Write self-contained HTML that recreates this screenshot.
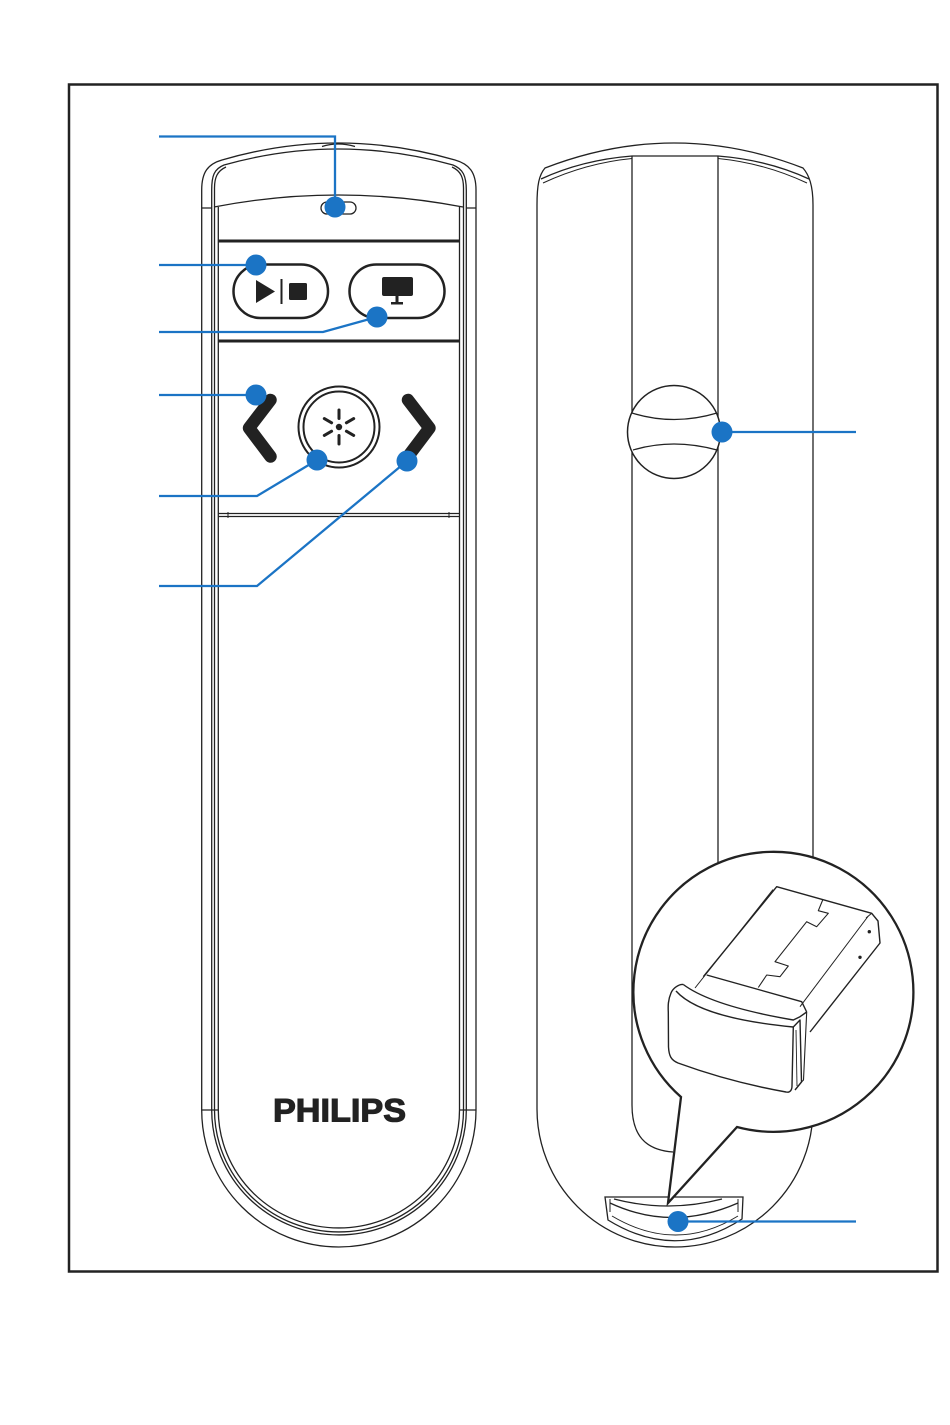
<!DOCTYPE html>
<html>
<head>
<meta charset="utf-8">
<style>
html,body{margin:0;padding:0;background:#fff;}
svg{display:block;}
</style>
</head>
<body>
<svg width="950" height="1425" viewBox="0 0 950 1425" xmlns="http://www.w3.org/2000/svg">
<rect x="0" y="0" width="950" height="1425" fill="#fff"/>
<!-- frame -->
<rect x="69" y="84.5" width="868.5" height="1187" fill="none" stroke="#222" stroke-width="2.5"/>

<!-- ============ LEFT REMOTE ============ -->
<g fill="none" stroke="#222" stroke-width="1.3">
  <!-- outer -->
  <path d="M201.7,1110 V190 C201.7,172 208,164 222,160 Q338,126 455,160 C469,164 476,172 476,190 V1110 A137.15,137 0 0 1 201.7,1110 Z"/>
  <!-- second -->
  <path d="M211.7,1110 V190 C211.7,176 214,169 224,165 Q338,133 453,165 C463,169 466.3,176 466.3,190 V1110 A127.3,125 0 0 1 211.7,1110"/>
  <!-- third -->
  <path d="M214.5,1110 V188 C214.5,178 217,171 226,167 M452,167 C461,171 463.5,178 463.5,188 V1110 A124.5,122 0 0 1 214.5,1110"/>
  <!-- panel edge -->
  <path d="M218.3,207 V1110 A120.6,118 0 0 0 459.5,1110 V207"/>
  <!-- ticks -->
  <path d="M201.7,208 H211.7 M466.3,208 H476 M201.7,1110 H218.3 M459.5,1110 H476"/>
  <!-- top notch -->
  <path d="M322,146.5 Q338,141.5 355,146.5"/>
  <!-- cap seam curve -->
  <path d="M214,207 Q338,183 463,207"/>
  <!-- LED -->
  <rect x="321" y="202" width="35" height="12" rx="6"/>
  <!-- double seam -->
  <path d="M218.3,513.5 H459.5 M218.3,516.5 H459.5"/>
  <path d="M228,512 v6 M449,512 v6" stroke-width="1"/>
</g>
<!-- thick panel lines -->
<path d="M218.3,241 H459.5 M218.3,341 H459.5" stroke="#222" stroke-width="3" fill="none"/>

<!-- buttons -->
<g fill="none" stroke="#222" stroke-width="2.5">
  <rect x="233.5" y="264.5" width="94.5" height="53.5" rx="26.75"/>
  <rect x="349.5" y="264.5" width="95" height="53.5" rx="26.75"/>
</g>
<g fill="#222">
  <polygon points="256,280 275,291.5 256,303"/>
  <rect x="280.5" y="279" width="2" height="25"/>
  <rect x="289" y="283" width="18" height="17" rx="1.5"/>
  <rect x="382" y="277" width="31" height="19" rx="2"/>
  <rect x="395.5" y="295" width="3" height="8"/>
  <rect x="391" y="302" width="12" height="2.5"/>
</g>

<!-- chevrons -->
<g fill="none" stroke="#222" stroke-width="12.5" stroke-linecap="round" stroke-linejoin="round">
  <path d="M270.5,400 L249,428 L270.5,456.5"/>
  <path d="M408,400 L429.5,428 L408,456.5"/>
</g>

<!-- center button -->
<g fill="none" stroke="#222" stroke-width="2">
  <circle cx="339" cy="427" r="40.5"/>
  <circle cx="339" cy="427" r="35.5"/>
</g>
<g stroke="#222" stroke-width="3" stroke-linecap="round">
  <line x1="339" y1="418.5" x2="339" y2="410"/>
  <line x1="339" y1="435.5" x2="339" y2="444"/>
  <line x1="331.6" y1="422.8" x2="324.3" y2="418.6"/>
  <line x1="346.4" y1="422.8" x2="353.7" y2="418.6"/>
  <line x1="331.6" y1="431.2" x2="324.3" y2="435.4"/>
  <line x1="346.4" y1="431.2" x2="353.7" y2="435.4"/>
</g>
<circle cx="339" cy="427" r="3.2" fill="#222"/>

<!-- PHILIPS -->
<text x="273" y="1121.5" textLength="133" lengthAdjust="spacingAndGlyphs" font-family="Liberation Sans, Arial, sans-serif" font-weight="bold" font-size="32" fill="#222" stroke="#222" stroke-width="1.1" stroke-linejoin="miter">PHILIPS</text>

<!-- ============ RIGHT REMOTE ============ -->
<g fill="none" stroke="#222" stroke-width="1.3">
  <path d="M537,1109 V205 C537,185 539,175 545,168 Q674,118 803,168 C809,175 813,185 813,205 V1109 A138,138 0 0 1 537,1109 Z"/>
  <path d="M541,179 Q582,160 632,156 H718 Q768,160 809,179"/>
  <path d="M543,183 Q586,163 632,158.5 M718,158.5 Q764,163 807,183" stroke-width="1"/>
  <!-- strip -->
  <path d="M632,156 V1105 C632,1135 645,1150 673,1152"/>
  <path d="M718,156 V900"/>
  <!-- slot -->
  <path d="M605,1197 H743 L742,1219 Q676,1262 608,1220 Z"/>
  <path d="M614,1199 Q668,1213 722,1199"/>
  <path d="M610,1203 Q672,1232 738,1203"/>
  <path d="M612,1216 Q676,1254 738,1216" stroke-width="1"/>
  <path d="M610,1199 V1212 M738,1199 V1212" stroke-width="1"/>
</g>
<!-- dial -->
<circle cx="674" cy="432" r="46.5" fill="#fff" stroke="#222" stroke-width="1.5"/>
<path d="M632,413 Q674,426 717,413 M633,450 Q673,438 717,450" fill="none" stroke="#222" stroke-width="1.3"/>

<!-- magnifier bubble -->
<path d="M681,1097 A140,140 0 1 1 737,1127 L668,1203 Z" fill="#fff" stroke="#222" stroke-width="2.3" stroke-linejoin="miter"/>

<!-- dongle -->
<g fill="none" stroke="#222" stroke-width="1.4" stroke-linejoin="round">
  <path d="M703.3,976.7 L776.7,886.7 L871.7,913.3 L878,921 L880,943 L810,1032"/>
  <path d="M773,889.5 L695,988" stroke-width="1"/>
  <path d="M868.3,916 L800,1006.7" stroke-width="1"/>
  <path d="M871.7,913.3 L866,918" stroke-width="1"/>
  <path d="M706.7,975 L801.7,1001.7 L806.7,1012"/>
  <path d="M822.7,900 L818.3,910.7 L828.3,913.3 L816.7,926.7 L806.7,921.7 L775,961.7 L788.3,966 L780,976.7 L766.7,975 L758.3,987.5" stroke-width="1.1"/>
  <!-- cap -->
  <path d="M683.3,984.5 C679,984 673,988 671,993 C668,1000 668,1006 668.3,1012 L668.5,1047 C669,1056 671,1060 678,1063 Q730,1082 786,1092 C790,1093 792,1090 792,1086 L793.3,1027"/>
  <path d="M676,991 Q700,1018 793.3,1027"/>
  <path d="M683.3,984.5 Q712,1006 793.3,1020 L800,1016.7 L806.7,1012"/>
  <path d="M793.3,1027 L800,1020 L801.5,1082 L795,1090"/>
  <path d="M806.7,1012 L803.5,1080 L801.5,1082" stroke-width="1.1"/>
  <path d="M796,1030 L797,1086" stroke-width="0.9"/>
</g>
<circle cx="869.3" cy="931.7" r="1.7" fill="#222"/>
<circle cx="860" cy="957.3" r="1.7" fill="#222"/>

<!-- ============ CALLOUTS ============ -->
<g fill="none" stroke="#1b74c5" stroke-width="2.3">
  <path d="M159,136.5 H335 V207"/>
  <path d="M159,265 H256"/>
  <path d="M159,332 H323 L377,317"/>
  <path d="M159,395 H256"/>
  <path d="M159,496 H257 L317,460"/>
  <path d="M159,586 H257 L407,461"/>
  <path d="M722,432 H856"/>
  <path d="M678,1221.5 H856"/>
</g>
<g fill="#1b74c5">
  <circle cx="335" cy="207" r="10.5"/>
  <circle cx="256" cy="265" r="10.5"/>
  <circle cx="377" cy="317" r="10.5"/>
  <circle cx="256" cy="395" r="10.5"/>
  <circle cx="317" cy="460" r="10.5"/>
  <circle cx="407" cy="461" r="10.5"/>
  <circle cx="722" cy="432" r="10.5"/>
  <circle cx="678" cy="1221.5" r="10.5"/>
</g>
</svg>
</body>
</html>
